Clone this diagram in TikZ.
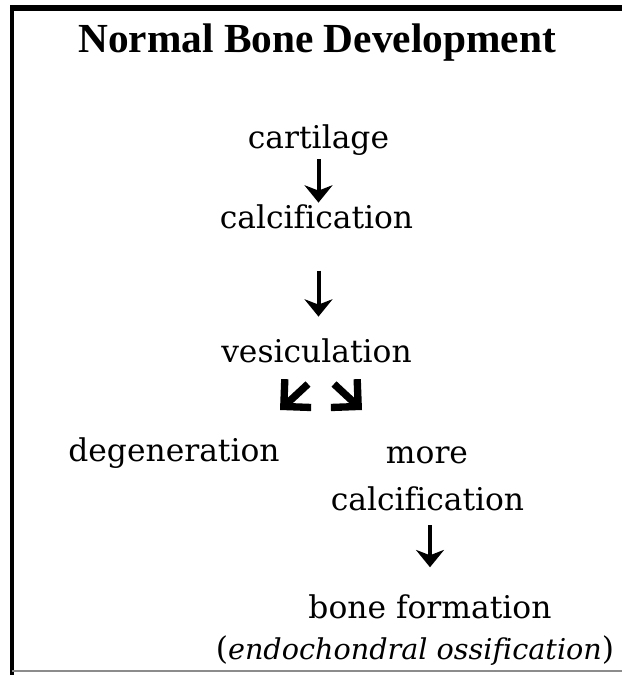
\documentclass[tikz,border=0pt]{standalone}
\usepackage{fontspec}
\setmainfont{DejaVu Serif}[Ligatures=CommonOff]
\newfontfamily\headfont{Liberation Serif}
\usetikzlibrary{arrows.meta}

\begin{document}
\begin{tikzpicture}[x=0.75pt,y=-0.75pt,font=\fontsize{23.5}{27}\selectfont]
\useasboundingbox (0,0) rectangle (622,675);
\draw[line width=4.5pt] (10,8)--(622,8);
\draw[line width=3.5pt] (12,6)--(12,675);
\draw[black!45,line width=1pt] (12,671)--(622,671);
\node[anchor=base] (title) at (317,52) {\headfont\bfseries\fontsize{31}{36}\selectfont Normal Bone Development};
\node[anchor=base,inner sep=0pt] (cart) at (318.5,148) {cartilage};
\node[anchor=base,inner sep=0pt] (calc) at (316.5,228) {calcification};
\node[anchor=base,inner sep=0pt] (vesic) at (316.5,362) {vesiculation};
\node[anchor=base,inner sep=0pt] (degen) at (174,461) {degeneration};
\node[anchor=base,inner sep=0pt] (more) at (427,463) {more};
\node[anchor=base,inner sep=0pt] (calcb) at (427.5,510) {calcification};
\node[anchor=base,inner sep=0pt] (bone) at (430,618) {bone formation};
\node[anchor=base,inner sep=0pt] (endo) at (415,659) {(\textit{\fontsize{21.5}{26}\selectfont endochondral ossification})};
\coordinate (dl0) at (308,384);\coordinate (dl1) at (280,410);
\coordinate (dr0) at (334,384);\coordinate (dr1) at (362,410);
\draw[-{Stealth[length=13pt,width=21pt,inset=4pt]},line width=3pt,shorten <=3pt,shorten >=1pt] (cart.south) -- (cart.south |- calc.north);
\draw[-{Stealth[length=13pt,width=21pt,inset=4pt]},line width=3pt,shorten <=31.5pt,shorten >=16pt] (calc.south -| cart.south) -- (vesic.north -| cart.south);
\draw[-{Stealth[length=13pt,width=21pt,inset=4pt]},line width=3pt,shorten <=11pt,shorten >=20pt] (calcb.south -| bone.south) -- (bone.north);
\draw[-{Straight Barb[length=14.5pt,width=29pt]},line width=5.5pt] (dl0) -- (dl1);
\draw[-{Straight Barb[length=14.5pt,width=29pt]},line width=5.5pt] (dr0) -- (dr1);
\end{tikzpicture}
\end{document}
